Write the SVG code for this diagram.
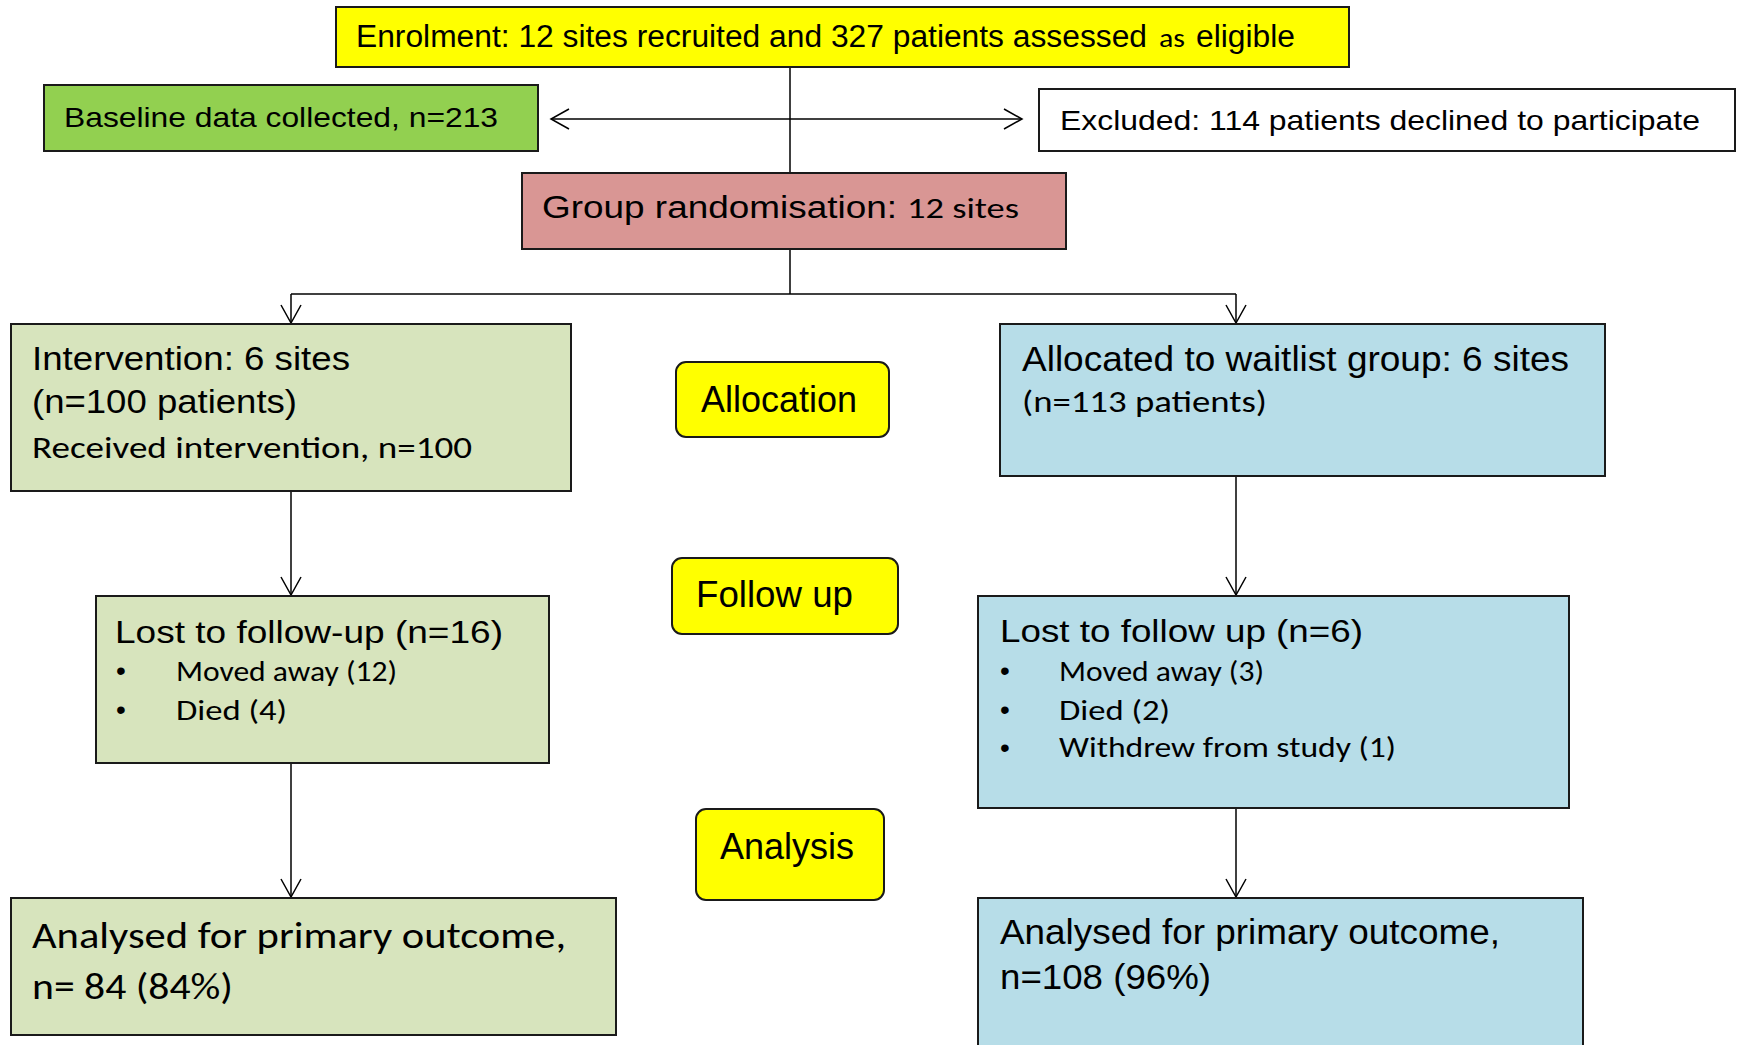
<svg xmlns="http://www.w3.org/2000/svg" width="1741" height="1045" viewBox="0 0 1741 1045">
<style>
.box{stroke:#1a1a1a;stroke-width:2}
.a{font-family:"Liberation Sans",Arial,sans-serif;fill:#000}
.c{font-family:Carlito,Lato,"Open Sans",sans-serif;fill:#000}
.ln{stroke:#000;stroke-width:1.5;fill:none}
</style>
<defs>
<marker id="arr" markerUnits="userSpaceOnUse" viewBox="-20 -12 22 24" refX="0" refY="0" markerWidth="22" markerHeight="24" orient="auto">
<path d="M-18,-10 L0,0 L-18,10" fill="none" stroke="#000" stroke-width="1.5"/>
</marker>
</defs>
<rect width="1741" height="1045" fill="#fff"/>
<g id="connectors">
<line class="ln" x1="790" y1="67" x2="790" y2="173"/>
<line class="ln" x1="790" y1="119" x2="551" y2="119" marker-end="url(#arr)"/>
<line class="ln" x1="790" y1="119" x2="1022" y2="119" marker-end="url(#arr)"/>
<line class="ln" x1="790" y1="249" x2="790" y2="294"/>
<line class="ln" x1="291" y1="294" x2="1236" y2="294"/>
<line class="ln" x1="291" y1="294" x2="291" y2="323" marker-end="url(#arr)"/>
<line class="ln" x1="1236" y1="294" x2="1236" y2="323" marker-end="url(#arr)"/>
<line class="ln" x1="291" y1="491" x2="291" y2="595" marker-end="url(#arr)"/>
<line class="ln" x1="291" y1="763" x2="291" y2="897" marker-end="url(#arr)"/>
<line class="ln" x1="1236" y1="476" x2="1236" y2="595" marker-end="url(#arr)"/>
<line class="ln" x1="1236" y1="808" x2="1236" y2="897" marker-end="url(#arr)"/>
</g>
<g id="enrolment">
<rect class="box" x="336" y="7" width="1013" height="60" fill="#ffff00"/>
<text class="a" x="356" y="47" font-size="31" textLength="791" lengthAdjust="spacingAndGlyphs">Enrolment: 12 sites recruited and 327 patients assessed</text>
<text class="c" x="1159" y="47" font-size="27" textLength="26" lengthAdjust="spacingAndGlyphs">as</text>
<text class="a" x="1196" y="47" font-size="31" textLength="99" lengthAdjust="spacingAndGlyphs">eligible</text>
</g>
<g id="baseline">
<rect class="box" x="44" y="85" width="494" height="66" fill="#92d050"/>
<text class="a" x="64" y="127" font-size="28" textLength="434" lengthAdjust="spacingAndGlyphs">Baseline data collected, n=213</text>
</g>
<g id="excluded">
<rect class="box" x="1039" y="89" width="696" height="62" fill="#ffffff"/>
<text class="a" x="1060" y="130" font-size="28" textLength="640" lengthAdjust="spacingAndGlyphs">Excluded: 114 patients declined to participate</text>
</g>
<g id="randomisation">
<rect class="box" x="522" y="173" width="544" height="76" fill="#d99694"/>
<text class="a" x="542" y="218" font-size="31" textLength="355" lengthAdjust="spacingAndGlyphs">Group randomisation:</text>
<text class="c" x="907" y="218" font-size="29" textLength="112" lengthAdjust="spacingAndGlyphs">12 sites</text>
</g>
<g id="intervention">
<rect class="box" x="11" y="324" width="560" height="167" fill="#d7e4bd"/>
<text class="a" x="32" y="370" font-size="34" textLength="318" lengthAdjust="spacingAndGlyphs">Intervention: 6 sites</text>
<text class="a" x="32" y="413" font-size="34" textLength="265" lengthAdjust="spacingAndGlyphs">(n=100 patients)</text>
<text class="c" x="32" y="458" font-size="31" textLength="440" lengthAdjust="spacingAndGlyphs">Received intervention, n=100</text>
</g>
<g id="allocation">
<rect class="box" x="676" y="362" width="213" height="75" rx="10" fill="#ffff00"/>
<text class="a" x="701" y="412" font-size="36" textLength="156" lengthAdjust="spacingAndGlyphs">Allocation</text>
</g>
<g id="waitlist">
<rect class="box" x="1000" y="324" width="605" height="152" fill="#b7dde8"/>
<text class="a" x="1022" y="371" font-size="35" textLength="547" lengthAdjust="spacingAndGlyphs">Allocated to waitlist group: 6 sites</text>
<text class="c" x="1022" y="412" font-size="31" textLength="245" lengthAdjust="spacingAndGlyphs">(n=113 patients)</text>
</g>
<g id="followup">
<rect class="box" x="672" y="558" width="226" height="76" rx="10" fill="#ffff00"/>
<text class="a" x="696" y="607" font-size="36" textLength="157" lengthAdjust="spacingAndGlyphs">Follow up</text>
</g>
<g id="lost-intervention">
<rect class="box" x="96" y="596" width="453" height="167" fill="#d7e4bd"/>
<text class="a" x="115" y="643" font-size="31" textLength="388" lengthAdjust="spacingAndGlyphs">Lost to follow-up (n=16)</text>
<text class="a" x="116" y="680" font-size="28">•</text>
<text class="c" x="176" y="681" font-size="28" textLength="221" lengthAdjust="spacingAndGlyphs">Moved away (12)</text>
<text class="a" x="116" y="719" font-size="28">•</text>
<text class="c" x="176" y="720" font-size="28" textLength="111" lengthAdjust="spacingAndGlyphs">Died (4)</text>
</g>
<g id="lost-waitlist">
<rect class="box" x="978" y="596" width="591" height="212" fill="#b7dde8"/>
<text class="a" x="1000" y="642" font-size="32" textLength="363" lengthAdjust="spacingAndGlyphs">Lost to follow up (n=6)</text>
<text class="a" x="1000" y="680" font-size="28">•</text>
<text class="c" x="1059" y="681" font-size="28" textLength="205" lengthAdjust="spacingAndGlyphs">Moved away (3)</text>
<text class="a" x="1000" y="719" font-size="28">•</text>
<text class="c" x="1059" y="720" font-size="28" textLength="111" lengthAdjust="spacingAndGlyphs">Died (2)</text>
<text class="a" x="1000" y="757" font-size="28">•</text>
<text class="c" x="1059" y="757" font-size="28" textLength="337" lengthAdjust="spacingAndGlyphs">Withdrew from study (1)</text>
</g>
<g id="analysis">
<rect class="box" x="696" y="809" width="188" height="91" rx="10" fill="#ffff00"/>
<text class="a" x="720" y="859" font-size="36" textLength="134" lengthAdjust="spacingAndGlyphs">Analysis</text>
</g>
<g id="analysed-intervention">
<rect class="box" x="11" y="898" width="605" height="137" fill="#d7e4bd"/>
<text class="c" x="32" y="948" font-size="37" textLength="534" lengthAdjust="spacingAndGlyphs">Analysed for primary outcome,</text>
<text class="c" x="32" y="999" font-size="37" textLength="201" lengthAdjust="spacingAndGlyphs">n= 84 (84%)</text>
</g>
<g id="analysed-waitlist">
<rect class="box" x="978" y="898" width="605" height="170" fill="#b7dde8"/>
<text class="a" x="1000" y="944" font-size="35" textLength="500" lengthAdjust="spacingAndGlyphs">Analysed for primary outcome,</text>
<text class="a" x="1000" y="989" font-size="35" textLength="211" lengthAdjust="spacingAndGlyphs">n=108 (96%)</text>
</g>
</svg>
